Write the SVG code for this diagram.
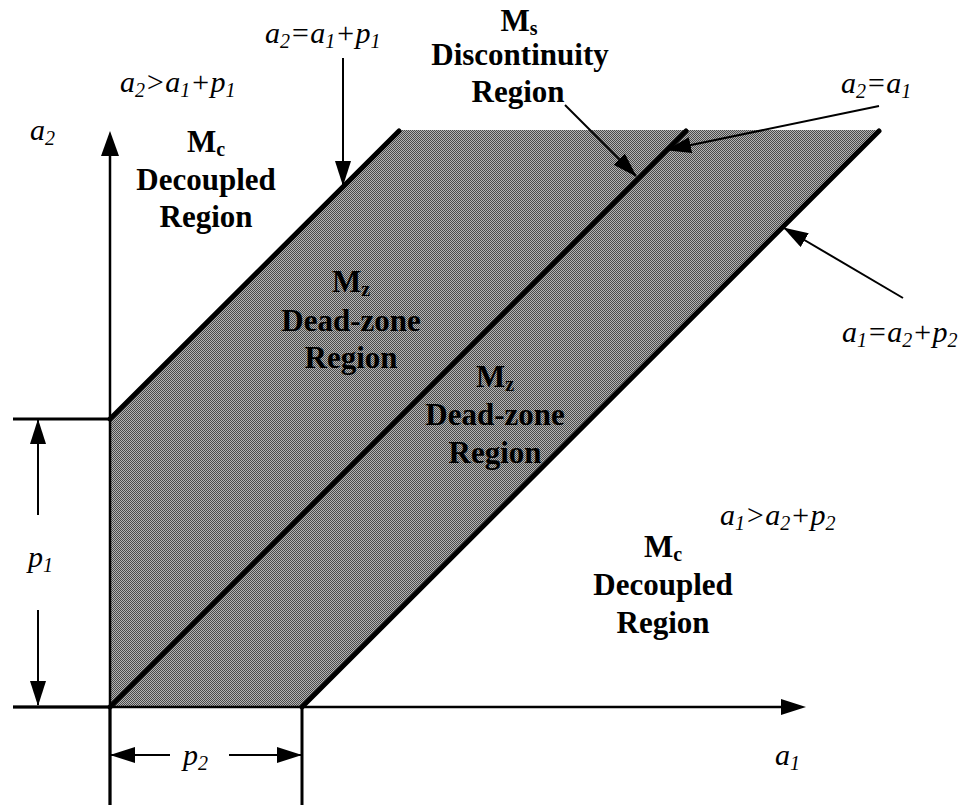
<svg xmlns="http://www.w3.org/2000/svg" width="969" height="805" viewBox="0 0 969 805">
<style>
.it{font-family:"Liberation Serif",Tinos,"Times New Roman",Times,"DejaVu Serif",serif;font-style:italic;font-size:30px;fill:#000}
.bd{font-family:"Liberation Serif",Tinos,"Times New Roman",Times,"DejaVu Serif",serif;font-weight:bold;font-size:31px;fill:#000;text-anchor:middle}
.sub{font-size:20px}
.ln{stroke:#000;fill:none}
.diag{stroke:#000;stroke-width:5;stroke-linecap:round;fill:none}
.arr{stroke:#000;stroke-width:2;fill:none;marker-end:url(#ah)}
</style>
<defs>
<pattern id="dots" width="2" height="2" patternUnits="userSpaceOnUse">
<rect width="2" height="2" fill="#b4b4b4"/>
<rect x="0" y="0" width="1" height="1" fill="#4a4a4a"/>
<rect x="1" y="1" width="1" height="1" fill="#4a4a4a"/>
</pattern>
<marker id="ah" markerWidth="25" markerHeight="16" refX="24" refY="8" orient="auto" markerUnits="userSpaceOnUse">
<path d="M0,0 L25,8 L0,16 z" fill="#000"/>
</marker>
</defs>
<rect width="969" height="805" fill="#fff"/>

<g id="shaded-region">
<polygon points="110,419 399,130 879,130 302,707 110,707" fill="url(#dots)"/>
</g>

<g id="axes">
<line class="ln" x1="110" y1="805" x2="110" y2="150" stroke-width="2.5"/>
<polygon points="110,131 101,156 119,156" fill="#000"/>
<line class="ln" x1="13" y1="707" x2="785" y2="707" stroke-width="2.5"/>
<polygon points="806,707 781,699 781,715" fill="#000"/>
<line class="ln" x1="13" y1="707" x2="110" y2="707" stroke-width="3"/>
<line class="ln" x1="13" y1="419" x2="110" y2="419" stroke-width="3"/>
<line class="ln" x1="302" y1="707" x2="302" y2="805" stroke-width="3"/>
<line class="ln" x1="110" y1="707" x2="110" y2="805" stroke-width="3"/>
</g>

<g id="boundaries">
<line class="diag" x1="110" y1="419" x2="399" y2="131"/>
<line class="diag" x1="110" y1="707" x2="686" y2="131"/>
<line class="diag" x1="302" y1="707" x2="879" y2="131"/>
</g>

<g id="connectors">
<line class="arr" x1="38" y1="515" x2="38" y2="420"/>
<line class="arr" x1="38" y1="610" x2="38" y2="705"/>
<line class="arr" x1="170" y1="755" x2="111" y2="755"/>
<line class="arr" x1="229" y1="755" x2="301" y2="755"/>
<line class="arr" x1="343" y1="58" x2="343" y2="185"/>
<line class="arr" x1="565" y1="105" x2="636" y2="176"/>
<line class="arr" x1="879" y1="106" x2="667" y2="150"/>
<line class="arr" x1="903" y1="298" x2="784" y2="228"/>
</g>

<g id="label-a2-axis"><text class="it" x="30" y="140">a<tspan class="sub" dy="5">2</tspan></text></g>
<g id="label-a1-axis"><text class="it" x="775" y="765">a<tspan class="sub" dy="5">1</tspan></text></g>
<g id="label-p1"><text class="it" x="28" y="567">p<tspan class="sub" dy="5">1</tspan></text></g>
<g id="label-p2"><text class="it" x="183" y="765">p<tspan class="sub" dy="5">2</tspan></text></g>
<g id="label-line-upper"><text class="it" x="265" y="43">a<tspan class="sub" dy="5">2</tspan><tspan dy="-5">=a</tspan><tspan class="sub" dy="5">1</tspan><tspan dy="-5">+p</tspan><tspan class="sub" dy="5">1</tspan></text></g>
<g id="label-ineq-upper"><text class="it" x="120" y="92">a<tspan class="sub" dy="5">2</tspan><tspan dy="-5">&gt;a</tspan><tspan class="sub" dy="5">1</tspan><tspan dy="-5">+p</tspan><tspan class="sub" dy="5">1</tspan></text></g>
<g id="label-line-middle"><text class="it" x="841" y="93">a<tspan class="sub" dy="5">2</tspan><tspan dy="-5">=a</tspan><tspan class="sub" dy="5">1</tspan></text></g>
<g id="label-line-lower"><text class="it" x="842" y="342">a<tspan class="sub" dy="5">1</tspan><tspan dy="-5">=a</tspan><tspan class="sub" dy="5">2</tspan><tspan dy="-5">+p</tspan><tspan class="sub" dy="5">2</tspan></text></g>
<g id="label-ineq-lower"><text class="it" x="720" y="525">a<tspan class="sub" dy="5">1</tspan><tspan dy="-5">&gt;a</tspan><tspan class="sub" dy="5">2</tspan><tspan dy="-5">+p</tspan><tspan class="sub" dy="5">2</tspan></text></g>

<g id="region-mc-upper">
<text class="bd" x="206" y="152">M<tspan class="sub" dy="4">c</tspan></text>
<text class="bd" x="206" y="190">Decoupled</text>
<text class="bd" x="206" y="227">Region</text>
</g>
<g id="region-ms">
<text class="bd" x="519" y="31">M<tspan class="sub" dy="4">s</tspan></text>
<text class="bd" x="520" y="65">Discontinuity</text>
<text class="bd" x="518" y="102">Region</text>
</g>
<g id="region-mz-upper">
<text class="bd" x="351" y="292">M<tspan class="sub" dy="4">z</tspan></text>
<text class="bd" x="351" y="331">Dead-zone</text>
<text class="bd" x="351" y="368">Region</text>
</g>
<g id="region-mz-lower">
<text class="bd" x="495" y="387">M<tspan class="sub" dy="4">z</tspan></text>
<text class="bd" x="495" y="425">Dead-zone</text>
<text class="bd" x="495" y="463">Region</text>
</g>
<g id="region-mc-lower">
<text class="bd" x="663" y="557">M<tspan class="sub" dy="4">c</tspan></text>
<text class="bd" x="663" y="595">Decoupled</text>
<text class="bd" x="663" y="633">Region</text>
</g>
</svg>
